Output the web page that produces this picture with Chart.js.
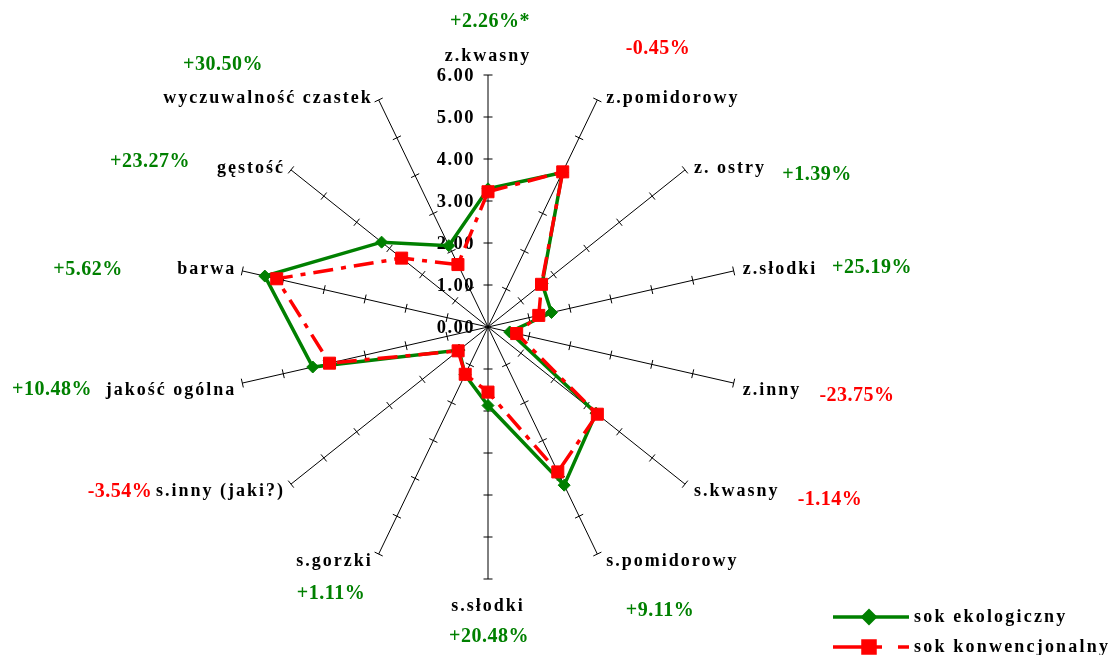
<!DOCTYPE html>
<html>
<head>
<meta charset="utf-8">
<title>Ocena sensoryczna soku pomidorowego</title>
<script src="https://cdn.jsdelivr.net/npm/chart.js@4/dist/chart.umd.min.js"></script>
<style>
  html, body { margin: 0; padding: 0; background: #ffffff; }
  canvas { display: block; }
</style>
</head>
<body>
<canvas id="radar" width="1112" height="655"></canvas>
<script>
// Sensory attributes (clockwise from the top)
const categories = [
  'z.kwasny', 'z.pomidorowy', 'z. ostry', 'z.słodki', 'z.inny',
  's.kwasny', 's.pomidorowy', 's.słodki', 's.gorzki', 's.inny (jaki?)',
  'jakość ogólna', 'barwa', 'gęstość', 'wyczuwalność czastek'
];

// Mean scores
const sokEkologiczny = [3.29, 4.08, 1.65, 1.55, 0.53, 3.29, 4.18, 1.87, 1.26, 0.88, 4.28, 5.45, 3.24, 2.15];
const sokKonwencjonalny = [3.22, 4.10, 1.63, 1.24, 0.70, 3.33, 3.83, 1.55, 1.25, 0.91, 3.87, 5.16, 2.63, 1.65];

// Difference of the organic juice against the conventional one
const roznice = [
  '+2.26%*', '-0.45%', '+1.39%', '+25.19%', '-23.75%', '-1.14%', '+9.11%',
  '+20.48%', '+1.11%', '-3.54%', '+10.48%', '+5.62%', '+23.27%', '+30.50%'
];

// Scale ticks
const tickValues = [0, 1, 2, 3, 4, 5, 6];
const tickLabels = ['0.00', '1.00', '2.00', '3.00', '4.00', '5.00', '6.00'];

const SERIF = '"Liberation Serif", "Times New Roman", serif';
const GREEN = '#008000';
const RED = '#ff0000';
const BLACK = '#000000';

// Placement of the difference notes: centre x and baseline y
const notePlacement = [
  [490, 27], [658, 54], [817, 180], [872, 273], [857, 401], [830, 505], [660, 616],
  [489, 642], [331, 599], [120, 497], [52, 395], [88, 275], [150, 167], [223, 70]
];

const radarDecor = {
  id: 'radarDecor',
  beforeDatasetsDraw(chart) {
    const r = chart.scales.r;
    const ctx = chart.ctx;
    ctx.save();
    // small cross ticks along every spoke
    ctx.strokeStyle = BLACK;
    ctx.lineWidth = 1;
    const half = 4.5;
    categories.forEach((_, i) => {
      const a = r.getIndexAngle(i);
      const px = Math.cos(a), py = Math.sin(a);
      tickValues.forEach(v => {
        if (v === 0) return;
        const p = r.getPointPosition(i, r.getDistanceFromCenterForValue(v));
        ctx.beginPath();
        ctx.moveTo(p.x - px * half, p.y - py * half);
        ctx.lineTo(p.x + px * half, p.y + py * half);
        ctx.stroke();
      });
    });
    // value labels along the top spoke
    ctx.fillStyle = BLACK;
    ctx.font = 'bold 18.5px ' + SERIF;
    ctx.letterSpacing = '1.5px';
    ctx.textAlign = 'right';
    ctx.textBaseline = 'middle';
    tickValues.forEach((v, k) => {
      const p = r.getPointPosition(0, r.getDistanceFromCenterForValue(v));
      ctx.fillText(tickLabels[k], p.x - 13, p.y + 1);
    });
    ctx.restore();
  },
  afterDraw(chart) {
    const r = chart.scales.r;
    const ctx = chart.ctx;
    ctx.save();
    // attribute names at the end of each spoke
    ctx.fillStyle = BLACK;
    ctx.font = 'bold 18px ' + SERIF;
    ctx.letterSpacing = '2px';
    ctx.textBaseline = 'alphabetic';
    const outer = r.getDistanceFromCenterForValue(r.max);
    categories.forEach((name, i) => {
      const a = r.getIndexAngle(i);
      const s = Math.sin(a), c = Math.cos(a);
      const end = r.getPointPosition(i, outer);
      let x = end.x, y;
      if (Math.abs(s) < 0.01) {
        ctx.textAlign = 'center';
        y = c > 0 ? end.y - 14 : end.y + 32;
      } else {
        ctx.textAlign = s > 0 ? 'left' : 'right';
        x = end.x + (s > 0 ? 9 : -6);
        y = end.y + (c > 0 ? 3 : 12);
      }
      ctx.fillText(name, x, y);
    });

    // difference notes
    ctx.font = 'bold 20px ' + SERIF;
    ctx.letterSpacing = '0.5px';
    ctx.textAlign = 'center';
    roznice.forEach((txt, i) => {
      const [x, y] = notePlacement[i];
      ctx.fillStyle = txt.charAt(0) === '-' ? RED : GREEN;
      ctx.fillText(txt, x, y);
    });

    // legend
    const rows = [
      { ds: chart.data.datasets[0], y: 617 },
      { ds: chart.data.datasets[1], y: 647 }
    ];
    const x0 = 833, x1 = 909, xm = 869;
    rows.forEach((row, k) => {
      const ds = row.ds;
      ctx.strokeStyle = ds.borderColor;
      ctx.lineWidth = ds.borderWidth;
      ctx.setLineDash(k === 0 ? [] : [49, 16]);
      ctx.beginPath();
      ctx.moveTo(x0, row.y);
      ctx.lineTo(x1, row.y);
      ctx.stroke();
      ctx.setLineDash([]);
      Chart.helpers.drawPoint(ctx, {
        pointStyle: ds.pointStyle,
        radius: ds.pointRadius,
        borderWidth: ds.pointBorderWidth,
        rotation: 0
      }, xm, row.y);
      ctx.fillStyle = ds.pointBackgroundColor;
      ctx.strokeStyle = ds.pointBorderColor;
      ctx.lineWidth = ds.pointBorderWidth;
      ctx.fill();
      ctx.stroke();
      ctx.fillStyle = BLACK;
      ctx.font = 'bold 18px ' + SERIF;
      ctx.letterSpacing = '2.2px';
      ctx.textAlign = 'left';
      ctx.textBaseline = 'alphabetic';
      ctx.fillText(ds.label, 914, row.y + 5);
    });
    ctx.restore();
  }
};

new Chart(document.getElementById('radar'), {
  type: 'radar',
  data: {
    labels: categories,
    datasets: [
      {
        label: 'sok ekologiczny',
        data: sokEkologiczny,
        borderColor: GREEN,
        backgroundColor: GREEN,
        borderWidth: 3.5,
        fill: false,
        tension: 0,
        pointStyle: 'rectRot',
        pointRadius: 6,
        pointBackgroundColor: GREEN,
        pointBorderColor: GREEN,
        pointBorderWidth: 1,
        order: 1
      },
      {
        label: 'sok konwencjonalny',
        data: sokKonwencjonalny,
        borderColor: RED,
        backgroundColor: RED,
        borderWidth: 3.5,
        borderDash: [20, 8, 5, 8],
        fill: false,
        tension: 0,
        pointStyle: 'rect',
        pointRadius: 8.5,
        pointBackgroundColor: RED,
        pointBorderColor: RED,
        pointBorderWidth: 1,
        order: 0
      }
    ]
  },
  options: {
    responsive: false,
    animation: false,
    events: [],
    layout: { padding: { left: 236, right: 372, top: 75, bottom: 76 } },
    plugins: {
      legend: { display: false },
      tooltip: { enabled: false }
    },
    scales: {
      r: {
        min: 0,
        max: 6,
        ticks: { display: false, stepSize: 1 },
        grid: { display: false },
        angleLines: { display: true, color: BLACK, lineWidth: 1 },
        pointLabels: { display: false }
      }
    }
  },
  plugins: [radarDecor]
});
</script>
</body>
</html>
